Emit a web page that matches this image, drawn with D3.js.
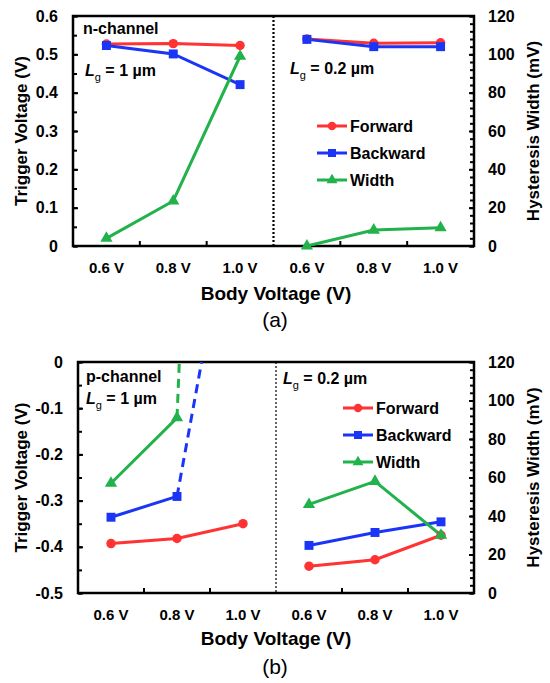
<!DOCTYPE html>
<html>
<head>
<meta charset="utf-8">
<script src="https://cdn.jsdelivr.net/npm/d3@7"></script>
<style>
  body { margin: 0; background: #fff; }
  text { font-family: "Liberation Sans", Arial, sans-serif; }
</style>
</head>
<body>
<script>
// categories
var bodyV = ["0.6 V", "0.8 V", "1.0 V"];
var gateLengths = ["1", "0.2"];          // um
var seriesNames = ["Forward", "Backward", "Width"];

// (a) n-channel, trigger voltage in V, width in mV
var nFwd1  = [0.527, 0.528, 0.523];
var nFwd02 = [0.540, 0.529, 0.530];
var nBwd1  = [0.523, 0.501, 0.421];
var nBwd02 = [0.539, 0.520, 0.520];
var nWid1  = [4, 23.5, 99];
var nWid02 = [0, 8.3, 9.5];

// (b) p-channel; the 1.0 V points of Lg = 1 um run off the scale (dashed)
var pFwd1  = [-0.393, -0.382, -0.350];
var pFwd02 = [-0.442, -0.428, -0.375];
var pBwd1  = [-0.336, -0.291, 0.49];
var pBwd02 = [-0.397, -0.369, -0.346];
var pWid1  = [57, 91, 920];
var pWid02 = [46, 58, 30];
var pOff1  = [false, false, true];
var noOff  = [false, false, false];

var nTicks = [0, 0.1, 0.2, 0.3, 0.4, 0.5, 0.6];
var pTicks = [0, -0.1, -0.2, -0.3, -0.4, -0.5];
var rTicks = [0, 20, 40, 60, 80, 100, 120];

var colors = { Forward: "#ff3333", Backward: "#1a35f5", Width: "#22b24c" };
var symbols = { Forward: d3.symbolCircle, Backward: d3.symbolSquare, Width: d3.symbolTriangle };
var symSize = { Forward: 70, Backward: 80, Width: 65 };

var W = 550, H = 683;
var svg = d3.select("body").append("svg").attr("width", W).attr("height", H);

function fmt(d) { return d === 0 ? "0" : d.toFixed(1); }

function drawPanel(p) {
  var g = svg.append("g");
  var keys = [];
  gateLengths.forEach(function(l) { bodyV.forEach(function(v) { keys.push(l + "|" + v); }); });
  var x = d3.scaleBand().domain(keys).range([p.x0, p.x1]);
  var cx = function(k) { return x(k) + x.bandwidth() / 2; };
  var yL = d3.scaleLinear().domain(p.leftDomain).range([p.y1, p.y0]);
  var yR = d3.scaleLinear().domain([0, 120]).range([p.y1, p.y0]);

  var clipId = "clip" + p.id;
  svg.append("clipPath").attr("id", clipId).append("rect")
    .attr("x", p.x0).attr("y", p.y0).attr("width", p.x1 - p.x0).attr("height", p.y1 - p.y0);

  // left axis, minor every 0.05
  var lo = Math.min(p.leftDomain[0], p.leftDomain[1]);
  var minorL = d3.range(0, 13).map(function(i) { return lo + i * 0.05; })
    .filter(function(v) { return v <= Math.max(p.leftDomain[0], p.leftDomain[1]) + 1e-9; });
  var la = g.append("g").attr("transform", "translate(" + p.x0 + ",0)")
    .call(d3.axisLeft(yL).tickValues(minorL).tickSizeInner(-4).tickSizeOuter(0).tickFormat(""));
  la.select(".domain").remove();
  var lb = g.append("g").attr("transform", "translate(" + p.x0 + ",0)")
    .call(d3.axisLeft(yL).tickValues(p.leftTicks).tickSizeInner(-5).tickSizeOuter(0).tickPadding(15).tickFormat(fmt));
  lb.select(".domain").remove();
  lb.selectAll("text").attr("font-size", 16).attr("font-weight", "bold").attr("fill", "#000");

  // right axis
  var ra = g.append("g").attr("transform", "translate(" + p.x1 + ",0)")
    .call(d3.axisRight(yR).tickValues(d3.range(0, 121, 4)).tickSizeInner(-4).tickSizeOuter(0).tickFormat(""));
  ra.select(".domain").remove();
  var rb = g.append("g").attr("transform", "translate(" + p.x1 + ",0)")
    .call(d3.axisRight(yR).tickValues(rTicks).tickSizeInner(-5).tickSizeOuter(0).tickPadding(14).tickFormat(d3.format("d")));
  rb.select(".domain").remove();
  rb.selectAll("text").attr("font-size", 16).attr("font-weight", "bold").attr("fill", "#000");
  g.selectAll(".tick line").attr("stroke", "#000").attr("stroke-width", 2);

  // bottom ticks at category boundaries
  g.selectAll(".xtick").data([1, 2, 4, 5]).enter().append("line")
    .attr("x1", function(i) { return x(keys[i]); }).attr("x2", function(i) { return x(keys[i]); })
    .attr("y1", p.y1).attr("y2", p.y1 - 5).attr("stroke", "#000").attr("stroke-width", 2);

  g.selectAll(".xlab").data(keys).enter().append("text")
    .attr("x", cx).attr("y", p.labY).attr("text-anchor", "middle")
    .attr("font-size", 15).attr("font-weight", "bold")
    .text(function(k) { return k.split("|")[1]; });

  // dotted separator
  g.append("line").attr("x1", x(keys[3])).attr("x2", x(keys[3]))
    .attr("y1", p.y0).attr("y2", p.y1).attr("stroke", "#000")
    .attr("stroke-width", p.sepW).attr("stroke-dasharray", "2,2");

  // frame
  g.append("rect").attr("x", p.x0).attr("y", p.y0).attr("width", p.x1 - p.x0).attr("height", p.y1 - p.y0)
    .attr("fill", "none").attr("stroke", "#000").attr("stroke-width", 2.5);

  // data
  var plot = g.append("g").attr("clip-path", "url(#" + clipId + ")");
  var markers = g.append("g");
  p.series.forEach(function(s) {
    var yS = s.name === "Width" ? yR : yL;
    s.groups.forEach(function(vals, gi) {
      var off = s.off[gi];
      var pts = vals.map(function(v, i) {
        return { x: cx(gateLengths[gi] + "|" + bodyV[i]), y: yS(v), off: off[i] };
      });
      var line = d3.line().defined(function(d) { return !d.off; }).x(function(d) { return d.x; }).y(function(d) { return d.y; });
      plot.append("path").attr("d", line(pts)).attr("fill", "none")
        .attr("stroke", colors[s.name]).attr("stroke-width", 3);
      for (var i = 1; i < pts.length; i++) {
        if (pts[i].off || pts[i - 1].off) {
          plot.append("line").attr("x1", pts[i - 1].x).attr("y1", pts[i - 1].y)
            .attr("x2", pts[i].x).attr("y2", pts[i].y)
            .attr("stroke", colors[s.name]).attr("stroke-width", 3).attr("stroke-dasharray", "9,6");
        }
      }
      markers.selectAll(null).data(pts.filter(function(d) { return !d.off; })).enter().append("path")
        .attr("d", d3.symbol().type(symbols[s.name]).size(symSize[s.name]))
        .attr("transform", function(d) { return "translate(" + d.x + "," + d.y + ")"; })
        .attr("fill", colors[s.name]);
    });
  });

  // legend
  seriesNames.forEach(function(n, i) {
    var ly = p.legY + i * 27;
    g.append("line").attr("x1", p.legX).attr("x2", p.legX + 30).attr("y1", ly).attr("y2", ly)
      .attr("stroke", colors[n]).attr("stroke-width", 3);
    g.append("path").attr("d", d3.symbol().type(symbols[n]).size(symSize[n] * 0.8))
      .attr("transform", "translate(" + (p.legX + 15) + "," + ly + ")").attr("fill", colors[n]);
    g.append("text").attr("x", p.legX + 33).attr("y", ly + 6).attr("font-size", 16)
      .attr("font-weight", "bold").text(n);
  });

  // axis titles
  g.append("text").attr("transform", "translate(" + p.ltX + "," + ((p.y0 + p.y1) / 2) + ") rotate(-90)")
    .attr("text-anchor", "middle").attr("font-size", 17).attr("font-weight", "bold").text("Trigger Voltage (V)");
  g.append("text").attr("transform", "translate(" + 539 + "," + ((p.y0 + p.y1) / 2) + ") rotate(-90)")
    .attr("text-anchor", "middle").attr("font-size", 17).attr("font-weight", "bold").text("Hysteresis Width (mV)");
  g.append("text").attr("x", 276).attr("y", p.titleY).attr("text-anchor", "middle")
    .attr("font-size", 19).attr("font-weight", "bold").text("Body Voltage (V)");
  g.append("text").attr("x", 275).attr("y", p.capY).attr("text-anchor", "middle")
    .attr("font-size", 21).text(p.caption);

  // annotations
  g.append("text").attr("x", p.chX).attr("y", p.chY).attr("font-size", 16).attr("font-weight", "bold").text(p.channel);
  function lg(xp, yp, val) {
    var t = g.append("text").attr("x", xp).attr("y", yp).attr("font-size", 16).attr("font-weight", "bold");
    t.append("tspan").attr("font-style", "italic").text("L");
    t.append("tspan").attr("font-size", 11).attr("font-weight", "normal").attr("dy", 5).text("g");
    t.append("tspan").attr("dy", -5).text(" = " + val + " \u00b5m");
  }
  lg(p.lg1X, p.lg1Y, gateLengths[0]);
  lg(p.lg2X, p.lg2Y, gateLengths[1]);
}

drawPanel({
  id: "a", x0: 73, x1: 474, y0: 16, y1: 246,
  leftDomain: [0, 0.6], leftTicks: nTicks,
  labY: 273, titleY: 300, capY: 327, ltX: 27, sepW: 2.2,
  legX: 317, legY: 126,
  channel: "n-channel", chX: 83, chY: 34,
  lg1X: 85, lg1Y: 76, lg2X: 290, lg2Y: 74, caption: "(a)",
  series: [
    { name: "Forward", groups: [nFwd1, nFwd02], off: [noOff, noOff] },
    { name: "Backward", groups: [nBwd1, nBwd02], off: [noOff, noOff] },
    { name: "Width", groups: [nWid1, nWid02], off: [noOff, noOff] }
  ]
});

drawPanel({
  id: "b", x0: 78, x1: 474, y0: 362, y1: 593,
  leftDomain: [-0.5, 0], leftTicks: pTicks,
  labY: 620, titleY: 645, capY: 674, ltX: 27, sepW: 1.2,
  legX: 343, legY: 408,
  channel: "p-channel", chX: 86, chY: 382,
  lg1X: 86, lg1Y: 404, lg2X: 283, lg2Y: 384, caption: "(b)",
  series: [
    { name: "Forward", groups: [pFwd1, pFwd02], off: [noOff, noOff] },
    { name: "Backward", groups: [pBwd1, pBwd02], off: [pOff1, noOff] },
    { name: "Width", groups: [pWid1, pWid02], off: [pOff1, noOff] }
  ]
});
</script>
</body>
</html>
